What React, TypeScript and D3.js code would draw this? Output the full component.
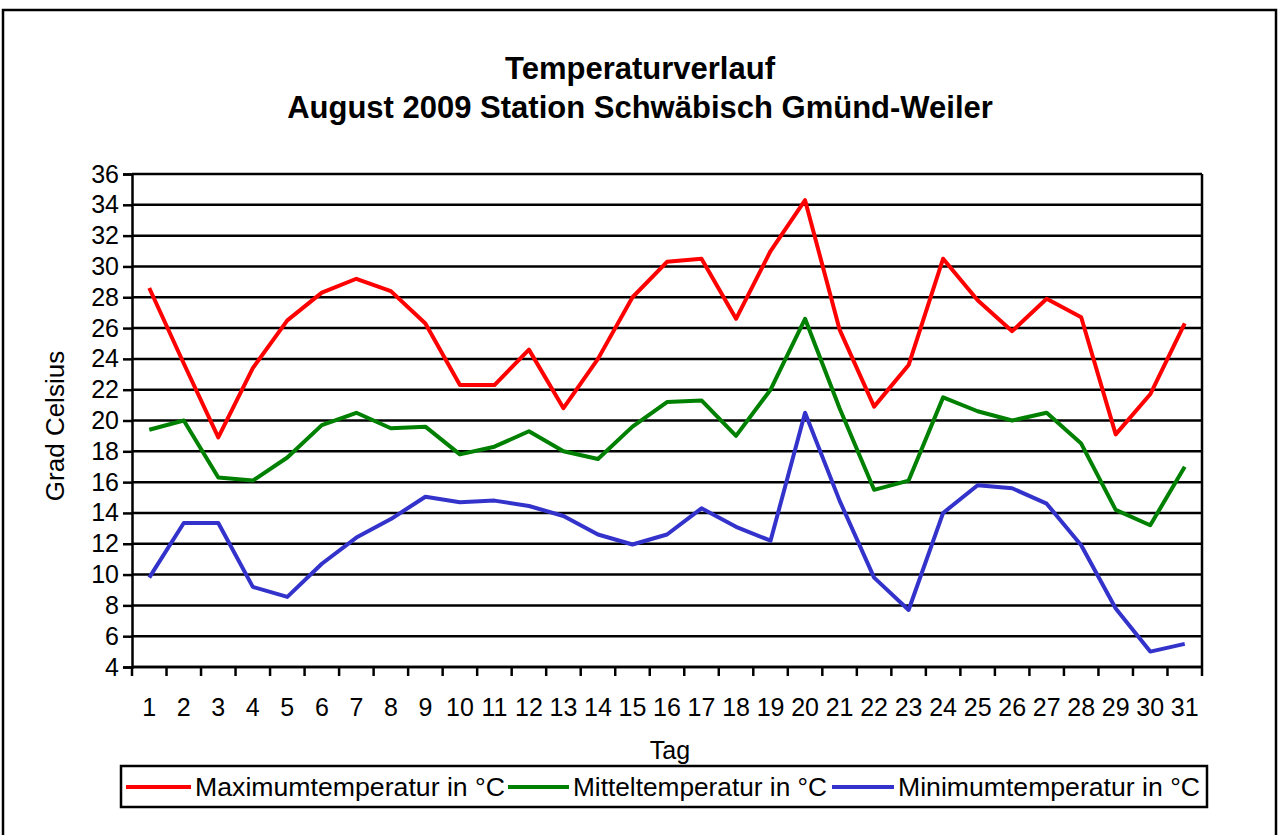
import React, { useEffect, useRef } from 'react';
import * as d3 from 'd3';

const days = d3.range(1, 32).map(String);
const maxTemp = [28.6, 23.7, 18.9, 23.4, 26.5, 28.3, 29.2, 28.4, 26.3, 22.3, 22.3, 24.6, 20.8, 24.0, 28.0, 30.3, 30.5, 26.6, 31.0, 34.3, 25.9, 20.9, 23.6, 30.5, 27.8, 25.8, 27.9, 26.7, 19.1, 21.7, 26.3];
const meanTemp = [19.4, 20.0, 16.3, 16.1, 17.6, 19.7, 20.5, 19.5, 19.6, 17.8, 18.3, 19.3, 18.0, 17.5, 19.6, 21.2, 21.3, 19.0, 22.0, 26.6, 20.8, 15.5, 16.1, 21.5, 20.6, 20.0, 20.5, 18.5, 14.2, 13.2, 17.0];
const minTemp = [9.8, 13.35, 13.35, 9.2, 8.55, 10.7, 12.4, 13.6, 15.05, 14.7, 14.8, 14.45, 13.8, 12.6, 11.95, 12.6, 14.3, 13.1, 12.2, 20.5, 14.8, 9.8, 7.7, 14.0, 15.8, 15.6, 14.6, 11.9, 7.8, 5.0, 5.5];
const yTicks = d3.range(4, 37, 2);

const seriesNames = ['Maximumtemperatur in °C', 'Mitteltemperatur in °C', 'Minimumtemperatur in °C'];
const seriesColors = ['#ff0000', '#008000', '#3333cc'];

const App = () => {
  const svgRef = useRef<SVGSVGElement>(null);

  useEffect(() => {
    const w = 1278;
    const h = 835;
    const font = '"Liberation Sans", Arial, sans-serif';
    const svg = d3.select(svgRef.current).attr('width', w).attr('height', h);
    svg.selectAll('*').remove();

    svg.append('rect').attr('width', w).attr('height', h).attr('fill', '#fff');
    // outer frame
    svg.append('rect')
      .attr('x', 3).attr('y', 10).attr('width', w - 5).attr('height', h)
      .attr('fill', 'none').attr('stroke', '#000').attr('stroke-width', 2.5);

    const left = 132, right = 1202, top = 174, bottom = 667;

    const xScale = d3.scaleBand().domain(days).range([left, right]);
    const yScale = d3.scaleLinear().domain([4, 36]).range([bottom, top]);

    // gridlines
    svg.append('g')
      .selectAll('line')
      .data(yTicks)
      .join('line')
      .attr('x1', left).attr('x2', right)
      .attr('y1', (d) => yScale(d)).attr('y2', (d) => yScale(d))
      .attr('stroke', '#000').attr('stroke-width', 2.5);

    // right border of plot
    svg.append('line')
      .attr('x1', right).attr('x2', right).attr('y1', top).attr('y2', bottom)
      .attr('stroke', '#000').attr('stroke-width', 2.5);

    const yAxis = d3.axisLeft(yScale).tickValues(yTicks).tickSize(9).tickPadding(4);
    const gy = svg.append('g').attr('transform', `translate(${left},0)`).call(yAxis);
    gy.select('.domain').attr('stroke-width', 2.5);
    gy.selectAll('.tick line').attr('stroke-width', 2.5);
    gy.selectAll('text').style('font-family', font).style('font-size', '25px').attr('fill', '#000');

    // x axis: ticks at band boundaries
    const gx = svg.append('g');
    gx.append('line')
      .attr('x1', left).attr('x2', right).attr('y1', bottom).attr('y2', bottom)
      .attr('stroke', '#000').attr('stroke-width', 2.5);
    gx.selectAll('.xt')
      .data(d3.range(0, 32))
      .join('line')
      .attr('class', 'xt')
      .attr('x1', (i) => left + i * xScale.bandwidth())
      .attr('x2', (i) => left + i * xScale.bandwidth())
      .attr('y1', bottom).attr('y2', bottom + 9)
      .attr('stroke', '#000').attr('stroke-width', 2.5);
    gx.selectAll('text')
      .data(days)
      .join('text')
      .attr('x', (d) => xScale(d)! + xScale.bandwidth() / 2)
      .attr('y', 716)
      .attr('text-anchor', 'middle')
      .style('font-family', font).style('font-size', '25px')
      .text((d) => d);

    const line = d3.line<number>()
      .x((_, i) => xScale(days[i])! + xScale.bandwidth() / 2)
      .y((d) => yScale(d));

    [maxTemp, meanTemp, minTemp].forEach((s, k) => {
      svg.append('path')
        .datum(s)
        .attr('d', line)
        .attr('fill', 'none')
        .attr('stroke', seriesColors[k])
        .attr('stroke-width', 4)
        .attr('stroke-linejoin', 'round');
    });

    // titles
    const title = svg.append('text')
      .attr('x', 640).attr('text-anchor', 'middle')
      .style('font-family', font).style('font-size', '31px').style('font-weight', 'bold');
    title.append('tspan').attr('x', 640).attr('y', 79).text('Temperaturverlauf');
    title.append('tspan').attr('x', 640).attr('y', 118).text('August 2009 Station Schwäbisch Gmünd-Weiler');

    svg.append('text')
      .attr('x', 670).attr('y', 759).attr('text-anchor', 'middle')
      .style('font-family', font).style('font-size', '25px')
      .text('Tag');

    svg.append('text')
      .attr('transform', 'rotate(-90)')
      .attr('x', -426).attr('y', 64)
      .attr('text-anchor', 'middle')
      .style('font-family', font).style('font-size', '26px')
      .text('Grad Celsius');

    // legend
    const lg = svg.append('g');
    lg.append('rect')
      .attr('x', 121).attr('y', 766).attr('width', 1086).attr('height', 41)
      .attr('fill', '#fff').attr('stroke', '#000').attr('stroke-width', 2.5);
    const lineX = [126, 508, 832];
    const textX = [195, 573, 898];
    const textW = [310, 254, 302];
    seriesNames.forEach((name, k) => {
      lg.append('line')
        .attr('x1', lineX[k]).attr('x2', textX[k] - 4).attr('y1', 787).attr('y2', 787)
        .attr('stroke', seriesColors[k]).attr('stroke-width', 4);
      lg.append('text')
        .attr('x', textX[k]).attr('y', 796)
        .attr('textLength', textW[k]).attr('lengthAdjust', 'spacingAndGlyphs')
        .style('font-family', font).style('font-size', '25px')
        .text(name);
    });
  }, []);

  return (
    <div>
      <svg ref={svgRef} style={{ position: 'absolute', left: 0, top: 0, display: 'block' }}></svg>
    </div>
  );
};

export default App;
